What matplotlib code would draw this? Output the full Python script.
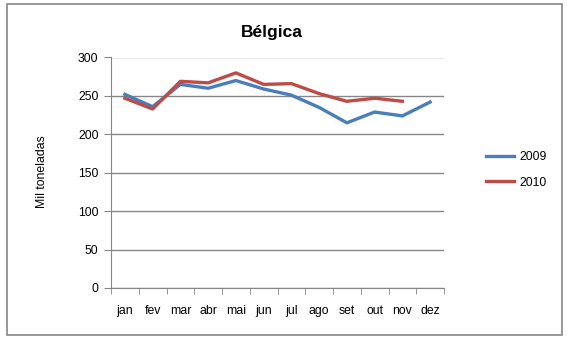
import matplotlib
matplotlib.use("Agg")
import matplotlib.pyplot as plt
from matplotlib.patches import Rectangle
import numpy as np

months = ["jan", "fev", "mar", "abr", "mai", "jun", "jul", "ago", "set", "out", "nov", "dez"]
v2009 = [252, 236, 265, 260, 270, 259, 251, 235, 215, 229, 224, 242]
v2010 = [247, 233, 269, 267, 280, 265, 266, 253, 243, 247, 243]
yticks = [0, 50, 100, 150, 200, 250, 300]

plt.rcParams['font.family'] = ['Liberation Sans', 'DejaVu Sans']

W, H = 570, 341
fig = plt.figure(figsize=(W / 100, H / 100), dpi=100)
fig.patch.set_facecolor("white")

# outer border
fig.patches.append(Rectangle((7 / W, 1 - 335 / H), (562 - 7) / W, (335 - 4) / H,
                             transform=fig.transFigure, fill=False,
                             edgecolor="#868686", linewidth=1.2))

left, right, top, bottom = 111, 444, 57.5, 288
ax = fig.add_axes([left / W, 1 - bottom / H, (right - left) / W, (bottom - top) / H])

x = np.arange(len(months))
l1, = ax.plot(x, v2009, color="#4a7ebb", linewidth=2.4, label="2009")
l2, = ax.plot(x[:len(v2010)], v2010, color="#be4b48", linewidth=2.4, label="2010")

ax.set_xlim(-0.5, len(months) - 0.5)
ax.set_ylim(0, 300)
ax.set_yticks(yticks)
ax.set_yticklabels([str(v) for v in yticks], fontsize=8.8)
ax.yaxis.grid(True, color="#868686", linewidth=1)
ax.set_axisbelow(True)

ax.set_xticks(x)
ax.set_xticklabels(months, fontsize=8.8)
ax.set_xticks(np.arange(-0.5, len(months)), minor=True)
ax.tick_params(axis="x", which="major", length=0, pad=12)
ax.tick_params(axis="x", which="minor", length=4, color="#868686", direction="out")
ax.tick_params(axis="y", length=5, color="#868686", direction="out", pad=4)

for s in ["top", "right"]:
    ax.spines[s].set_visible(False)
for s in ["left", "bottom"]:
    ax.spines[s].set_color("#868686")

fig.text(42 / W, 1 - 172 / H, "Mil toneladas", fontsize=8.8, rotation=90,
         ha="center", va="center")

fig.text(272 / W, 1 - 32 / H, "Bélgica", fontsize=12.5, fontweight="bold",
         ha="center", va="center")

fig.legend(handles=[l1, l2], loc="center left", bbox_to_anchor=(475 / W, 1 - 170 / H),
           frameon=False, fontsize=8.8, handlelength=2.3, labelspacing=1.1, handletextpad=0.4)

fig.savefig("out.png", dpi=100)
